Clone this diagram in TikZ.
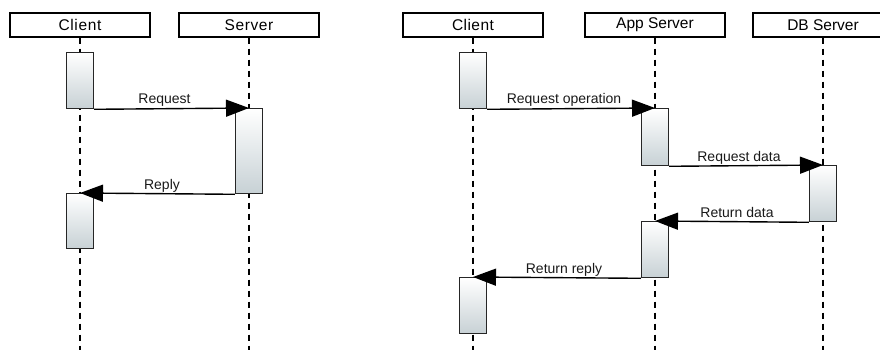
\documentclass[tikz,border=0pt]{standalone}
\usepackage{fontspec}
\setmainfont{Liberation Sans}
\usetikzlibrary{arrows.meta}
\tikzset{
  head/.style={draw=black, line width=1.3pt, fill=white, minimum width=140pt, minimum height=24pt, inner sep=0pt, font=\fontsize{15.5}{17}\selectfont},
  act/.style={draw=black!85, line width=1.3pt, minimum width=27pt, inner sep=0pt, anchor=north, top color=white, bottom color=shadecol},
  life/.style={line width=1.2pt, dash pattern=on 6pt off 5pt},
  msg/.style={line width=1.4pt, -{Triangle[length=23pt,width=17pt]}},
  lbl/.style={anchor=base, inner sep=0pt, font=\fontsize{14}{16}\selectfont, text=black!90},
}
\definecolor{shadecol}{HTML}{C7D1D5}
\begin{document}
\begin{tikzpicture}[x=1pt,y=-1pt]
\useasboundingbox (0,0) rectangle (880,350);
\clip (0,0) rectangle (880,350);
% heads
\node[head] (c1) at (80,25) {\addfontfeature{LetterSpace=4}Client};
\node[head] (s1) at (249,25) {\addfontfeature{LetterSpace=4}Server};
\node[head] (c2) at (473,25) {\addfontfeature{LetterSpace=3}Client};
\node[head] (a2) at (655,25) {App Server};
\node[head] (d2) at (823,25) {DB Server};
% lifelines
\coordinate (c1e) at (80,352);
\coordinate (s1e) at (249,352);
\coordinate (c2e) at (473,352);
\coordinate (a2e) at (655,352);
\coordinate (d2e) at (823,352);
\draw[life] (c1.south) -- (c1e);
\draw[life] (s1.south) -- (s1e);
\draw[life] (c2.south) -- (c2e);
\draw[life] (a2.south) -- (a2e);
\draw[life] (d2.south) -- (d2e);
% left activations
\node[act, minimum height=56pt] (ca1) at (80,52) {};
\node[act, minimum height=85pt] (sa1) at (249,108) {};
\node[act, minimum height=55pt] (ca2) at (80,193) {};
% right activations
\node[act, minimum height=56pt] (cb1) at (473,52) {};
\node[act, minimum height=57pt] (ab1) at (655,108) {};
\node[act, minimum height=56pt] (db1) at (823,165) {};
\node[act, minimum height=56pt] (ab2) at (655,221) {};
\node[act, minimum height=56pt] (cb2) at (473,277) {};
% messages left
\draw[msg] (ca1.south east) -- (sa1.north);
\node[lbl] (l1) at (164.5,104) {Request};
\draw[msg] (sa1.south west) -- (ca2.north);
\node[lbl] (l2) at (162,189) {Reply};
% messages right
\draw[msg] (cb1.south east) -- (ab1.north);
\node[lbl] (l3) at (564,104) {Request operation};
\draw[msg] (ab1.south east) -- (db1.north);
\node[lbl] (l4) at (739,161) {Request data};
\draw[msg] (db1.south west) -- (ab2.north);
\node[lbl] (l5) at (737,217) {Return data};
\draw[msg] (ab2.south west) -- (cb2.north);
\node[lbl] (l6) at (564,273) {Return reply};
\end{tikzpicture}
\end{document}
